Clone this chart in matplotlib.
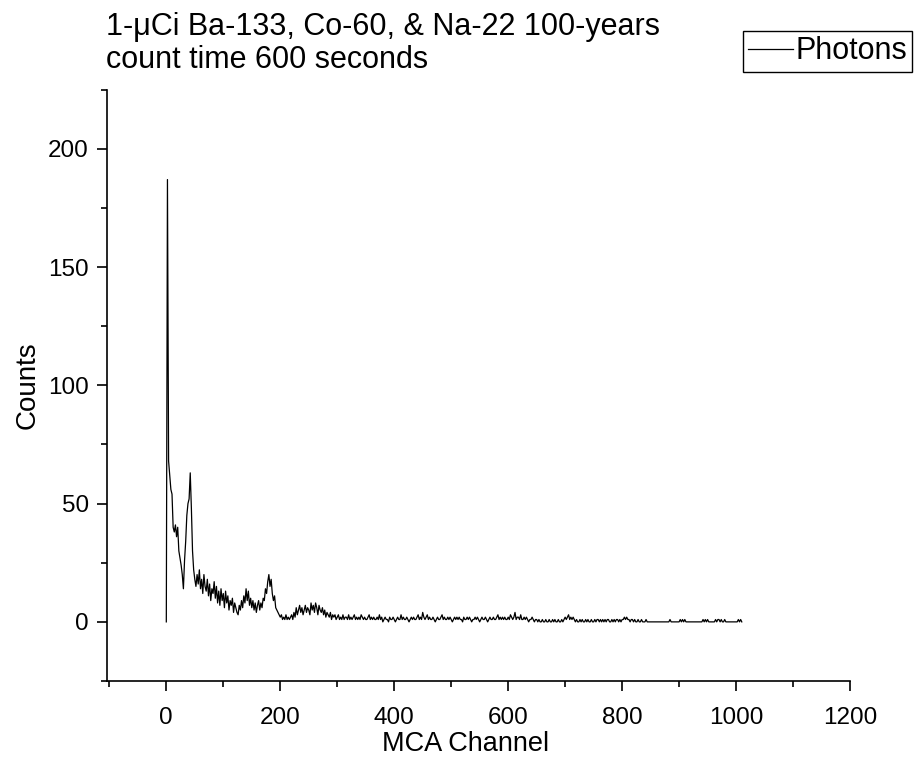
import numpy as np
import matplotlib
matplotlib.use("Agg")
import matplotlib.pyplot as plt
from matplotlib.ticker import MultipleLocator

plt.rcParams['font.family'] = ['Liberation Sans', 'DejaVu Sans']

# Counts, one value every 2 MCA channels
CHANNEL_STEP = 2

# channels 0 - 254
counts_a = [
    0, 187, 68, 62, 56, 54, 40, 38, 41, 36,
    40, 30, 27, 24, 20, 14, 26, 34, 45, 50,
    52, 63, 48, 30, 22, 18, 15, 20, 16, 22,
    14, 18, 12, 20, 15, 13, 18, 11, 16, 9,
    14, 12, 17, 10, 15, 8, 13, 7, 14, 9,
    12, 6, 13, 8, 11, 5, 9, 7, 10, 4,
    8, 6, 4, 3, 7, 5, 9, 6, 11, 8,
    14, 9, 13, 7, 10, 6, 9, 5, 8, 4,
    7, 9, 5, 8, 6, 10, 9, 14, 12, 17,
    20, 15, 18, 12, 9, 11, 6, 5, 4, 3,
    2, 3, 1, 2, 1, 3, 1, 2, 1, 2,
    3, 1, 4, 2, 6, 3, 5, 7, 4, 6,
    3, 5, 7, 4, 6, 5, 3, 8,
]
# channels 256 - 510
counts_b = [
    5, 7, 4, 8, 6, 3, 7, 5,
    4, 6, 3, 5, 2, 4, 3, 2, 4, 1, 3, 2, 3, 1, 2, 3, 1,
    2, 1, 3, 1, 2, 2, 1, 3, 1, 2, 1, 2, 3, 1, 2, 1, 2, 1,
    3, 2, 1, 2, 1, 1, 2, 3, 1, 2, 1, 2, 1, 1, 2, 1, 3,
    1, 2, 0, 1, 2, 1, 1, 0, 2, 1,
    1, 2, 1, 0, 1, 2, 1, 1, 3, 1,
    2, 1, 1, 2, 1, 0, 1, 2, 1, 2,
    1, 1, 2, 3, 1, 2, 1, 4, 2, 1,
    2, 3, 1, 2, 1, 1, 2, 1, 0, 1,
    2, 1, 1, 2, 3, 1, 2, 1, 1, 2,
    1, 2, 1, 0, 1, 2, 1, 2,
]
# channels 512 - 766
counts_c = [
    1, 2, 1, 1, 0, 2, 1, 1, 2, 1,
    2, 1, 0, 1, 1, 2, 1, 2, 1, 0,
    1, 2, 1, 1, 2, 1, 0, 1, 2, 1,
    1, 2, 1, 1, 2, 3, 1, 2, 1, 2,
    1, 2, 1, 1, 2, 1, 3, 2, 1, 2,
    4, 1, 2, 2, 1, 3, 1, 1, 2, 1,
    2, 1, 0, 1, 1, 2, 1, 0, 1, 1,
    0, 1, 0, 0, 1, 0, 0, 1, 0, 0,
    1, 0, 0, 1, 0, 1, 0, 0, 1, 0,
    0, 1, 0, 1, 2, 1, 2, 3, 1, 2,
    1, 2, 1, 0, 1, 0, 0, 1, 0, 1,
    0, 0, 1, 0, 1, 0, 0, 1, 0, 0,
    1, 0, 1, 1, 0, 1, 0, 1,
]
# channels 768 - 1010
counts_d = [
    0, 1, 0, 1, 1, 0, 0, 1, 0, 1,
    0, 1, 1, 0, 1, 0, 1, 1, 2, 1,
    2, 1, 1, 0, 1, 1, 0, 1, 0, 0,
    1, 0, 0, 1, 0, 0, 0, 1, 0, 0,
    0, 0, 0, 0, 0, 0, 0, 0, 0, 0,
    0, 0, 0, 0, 0, 0, 0, 0, 1, 0,
    0, 0, 0, 0, 0, 0, 0, 1, 0, 1,
    0, 1, 0, 0, 0, 0, 0, 0, 0, 0,
    0, 0, 0, 0, 0, 0, 0, 1, 0, 1,
    0, 1, 0, 0, 0, 0, 0, 0, 1, 0,
    1, 1, 0, 1, 0, 0, 1, 0, 0, 0,
    0, 0, 0, 0, 0, 0, 0, 0, 1, 0,
    1, 0,
]
segment_starts = [0, 256, 512, 768]

channels = []
counts = []
for start, seg in zip(segment_starts, [counts_a, counts_b, counts_c, counts_d]):
    channels.extend(start + CHANNEL_STEP * np.arange(len(seg)))
    counts.extend(seg)

title = "1-\u03bcCi Ba-133, Co-60, & Na-22 100-years\ncount time 600 seconds"

fig = plt.figure(figsize=(9.15, 7.73), dpi=100)
ax = fig.add_axes([0.117, 0.119, 0.812, 0.765])

ax.plot(channels, counts, color="black", lw=0.9, label="Photons")

ax.set_xlim(-104, 1200)
ax.set_ylim(-25, 225)
ax.xaxis.set_major_locator(MultipleLocator(200))
ax.xaxis.set_minor_locator(MultipleLocator(100))
ax.yaxis.set_major_locator(MultipleLocator(50))
ax.yaxis.set_minor_locator(MultipleLocator(25))

for side in ("top", "right"):
    ax.spines[side].set_visible(False)
for side in ("left", "bottom"):
    ax.spines[side].set_linewidth(1.2)

ax.tick_params(which="major", direction="out", length=7, width=1.2, labelsize=17.5)
ax.tick_params(which="minor", direction="out", length=4.5, width=1.2)
ax.tick_params(axis="x", which="major", pad=12)
ax.tick_params(axis="y", which="major", pad=6)

ax.set_xlabel("MCA Channel", fontsize=19.5)
ax.set_ylabel("Counts", fontsize=20)
ax.xaxis.set_label_coords(0.482, -0.085)
ax.yaxis.set_label_coords(-0.090, 0.5)

fig.text(0.116, 0.985, title, ha="left", va="top", fontsize=22, linespacing=1.14)

leg = ax.legend(loc="upper right", bbox_to_anchor=(0.997, 0.960),
                bbox_transform=fig.transFigure, fontsize=22,
                fancybox=False, framealpha=1, edgecolor="black",
                handlelength=1.45, handletextpad=0.08, borderpad=0.18,
                borderaxespad=0)
leg.get_frame().set_linewidth(1.0)

fig.savefig("out.png", dpi=100)
plt.close(fig)
